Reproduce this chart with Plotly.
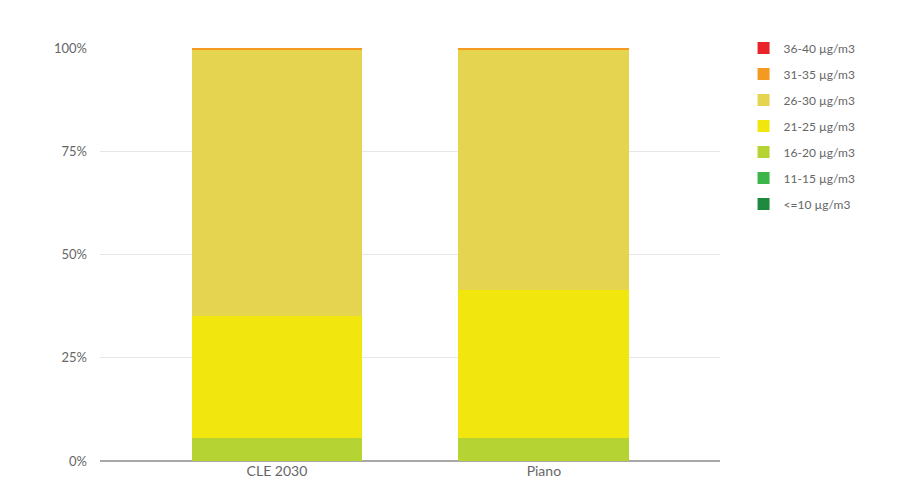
import plotly.graph_objects as go

categories = ["CLE 2030", "Piano"]
series_names = ["<=10 µg/m3", "11-15 µg/m3", "16-20 µg/m3", "21-25 µg/m3",
                "26-30 µg/m3", "31-35 µg/m3", "36-40 µg/m3"]
v_le10 = [0, 0]
v_11_15 = [0, 0]
v_16_20 = [5.6, 5.6]
v_21_25 = [29.5, 35.8]
v_26_30 = [64.6, 58.3]
v_31_35 = [0.3, 0.3]
v_36_40 = [0, 0]
series_values = [v_le10, v_11_15, v_16_20, v_21_25, v_26_30, v_31_35, v_36_40]
colors = ["#1f8a3f", "#3cb54a", "#b6d334", "#f2e60f", "#e5d450", "#f49a20", "#e8232a"]
y_ticks = [0, 25, 50, 75, 100]
y_tick_labels = ["0%", "25%", "50%", "75%", "100%"]

fig = go.Figure()
n = len(series_names)
for i, (name, vals, c) in enumerate(zip(series_names, series_values, colors)):
    fig.add_trace(go.Bar(x=[0, 1], y=vals, name=name, marker=dict(color=c, line=dict(width=0)),
                         legendgroup=name, legendrank=1000 + n - i))

fig.update_layout(
    barmode="stack",
    bargap=0.36,
    width=900, height=482,
    margin=dict(l=92, r=188, t=40, b=29),
    paper_bgcolor="white", plot_bgcolor="white",
    font=dict(family="Lato, sans-serif", size=12, color="#666"),
    legend=dict(traceorder="grouped", x=1.038, y=1.035, xanchor="left", yanchor="top",
                font=dict(size=12, color="#666"), tracegroupgap=7, itemwidth=30),
    xaxis=dict(tickmode="array", tickvals=[0, 1], ticktext=categories, range=[-0.663, 1.66],
               showgrid=False, zeroline=False, showline=False, ticks="",
               tickfont=dict(size=14)),
    yaxis=dict(range=[0, 100], tickvals=y_ticks, ticktext=y_tick_labels, showgrid=True,
               gridcolor="#e6e6e6", gridwidth=1, zeroline=True, zerolinecolor="#a8a8a8",
               zerolinewidth=2, ticks="", ticklabelstandoff=12, tickfont=dict(size=13)),
    showlegend=True,
)
fig.write_html("out.html")
